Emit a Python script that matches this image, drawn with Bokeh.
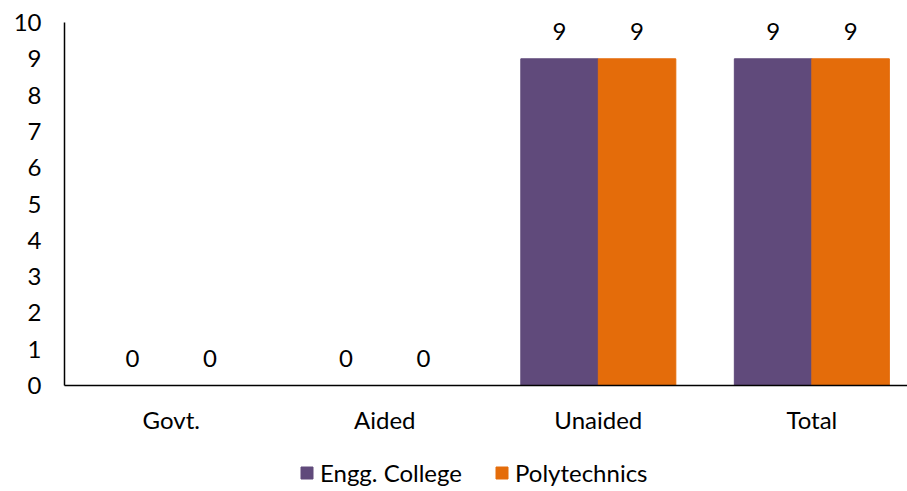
from bokeh.plotting import figure
from bokeh.layouts import column
from bokeh.models import ColumnDataSource, FixedTicker, Range1d, Legend, LegendItem, LabelSet
from bokeh.core.properties import value
from bokeh.embed import file_html
from bokeh.resources import INLINE

categories = ["Govt.", "Aided", "Unaided", "Total"]
engg_college = [0, 0, 9, 9]
polytechnics = [0, 0, 9, 9]
series_names = ["Engg. College", "Polytechnics"]
y_ticks = [0, 1, 2, 3, 4, 5, 6, 7, 8, 9, 10]

FONT = "Lato"
FS = "24px"
PURPLE = "#604A7B"
ORANGE = "#E46C0A"
BAR_W = 0.363

centers = [i + 0.5 for i in range(len(categories))]
src = ColumnDataSource(dict(
    x_engg=[c - BAR_W / 2 for c in centers],
    x_poly=[c + BAR_W / 2 for c in centers],
    engg=engg_college,
    poly=polytechnics,
    engg_txt=[str(v) for v in engg_college],
    poly_txt=[str(v) for v in polytechnics],
))

p = figure(width=907, height=450, frame_width=843, frame_height=363,
           output_backend="svg", toolbar_location=None,
           x_range=Range1d(0, 3.948), y_range=Range1d(0, 10),
           min_border_left=64, min_border_right=0, min_border_top=22,
           min_border_bottom=65)
p.outline_line_color = None
p.xgrid.grid_line_color = None
p.ygrid.grid_line_color = None

p.vbar(x="x_engg", top="engg", width=BAR_W, source=src, color=PURPLE)
p.vbar(x="x_poly", top="poly", width=BAR_W, source=src, color=ORANGE)

for xcol, ycol, tcol in (("x_engg", "engg", "engg_txt"), ("x_poly", "poly", "poly_txt")):
    p.add_layout(LabelSet(x=xcol, y=ycol, text=tcol, source=src, y_offset=27,
                          text_align="center", text_baseline="middle",
                          text_font=value(FONT), text_font_size=value(FS),
                          text_color="#000000"))

# y axis: labels only, no tick marks
p.yaxis.ticker = FixedTicker(ticks=y_ticks)
p.yaxis.major_tick_line_color = None
p.yaxis.minor_tick_line_color = None
p.yaxis.axis_line_color = "#000000"
p.yaxis.axis_line_width = 1.5
p.yaxis.major_label_text_font = FONT
p.yaxis.major_label_text_font_size = FS
p.yaxis.major_label_text_color = "#000000"
p.yaxis.major_label_standoff = 17

# x axis: category names at group centers
p.xaxis.ticker = FixedTicker(ticks=centers)
p.xaxis.major_label_overrides = {c: name for c, name in zip(centers, categories)}
p.xaxis.major_tick_line_color = None
p.xaxis.minor_tick_line_color = None
p.xaxis.axis_line_color = "#000000"
p.xaxis.axis_line_width = 1.5
p.xaxis.major_label_text_font = FONT
p.xaxis.major_label_text_font_size = FS
p.xaxis.major_label_text_color = "#000000"
p.xaxis.major_label_standoff = 13

# legend strip under the chart; the key renderers hold a single NaN so only
# their legend swatches are drawn
lg = figure(width=907, height=41, output_backend="svg", toolbar_location=None,
            x_range=Range1d(0, 1), y_range=Range1d(0, 1),
            x_axis_location=None, y_axis_location=None,
            min_border=0, min_border_left=0, min_border_right=0,
            min_border_top=0, min_border_bottom=0)
lg.outline_line_color = None
lg.xgrid.grid_line_color = None
lg.ygrid.grid_line_color = None
nan = float("nan")
k1 = lg.vbar(x=[nan], top=[nan], width=0.1, color=PURPLE)
k2 = lg.vbar(x=[nan], top=[nan], width=0.1, color=ORANGE)
legend = Legend(items=[LegendItem(label=series_names[0], renderers=[k1]),
                       LegendItem(label=series_names[1], renderers=[k2])],
                orientation="horizontal", location=(235, 4),
                glyph_width=15, glyph_height=15, label_standoff=6, spacing=32,
                label_text_font=FONT, label_text_font_size=FS,
                label_text_color="#000000", border_line_color=None,
                background_fill_alpha=0, margin=0, padding=0)
lg.add_layout(legend, "center")

open("out.html", "w").write(file_html(column(p, lg, spacing=0), INLINE))
